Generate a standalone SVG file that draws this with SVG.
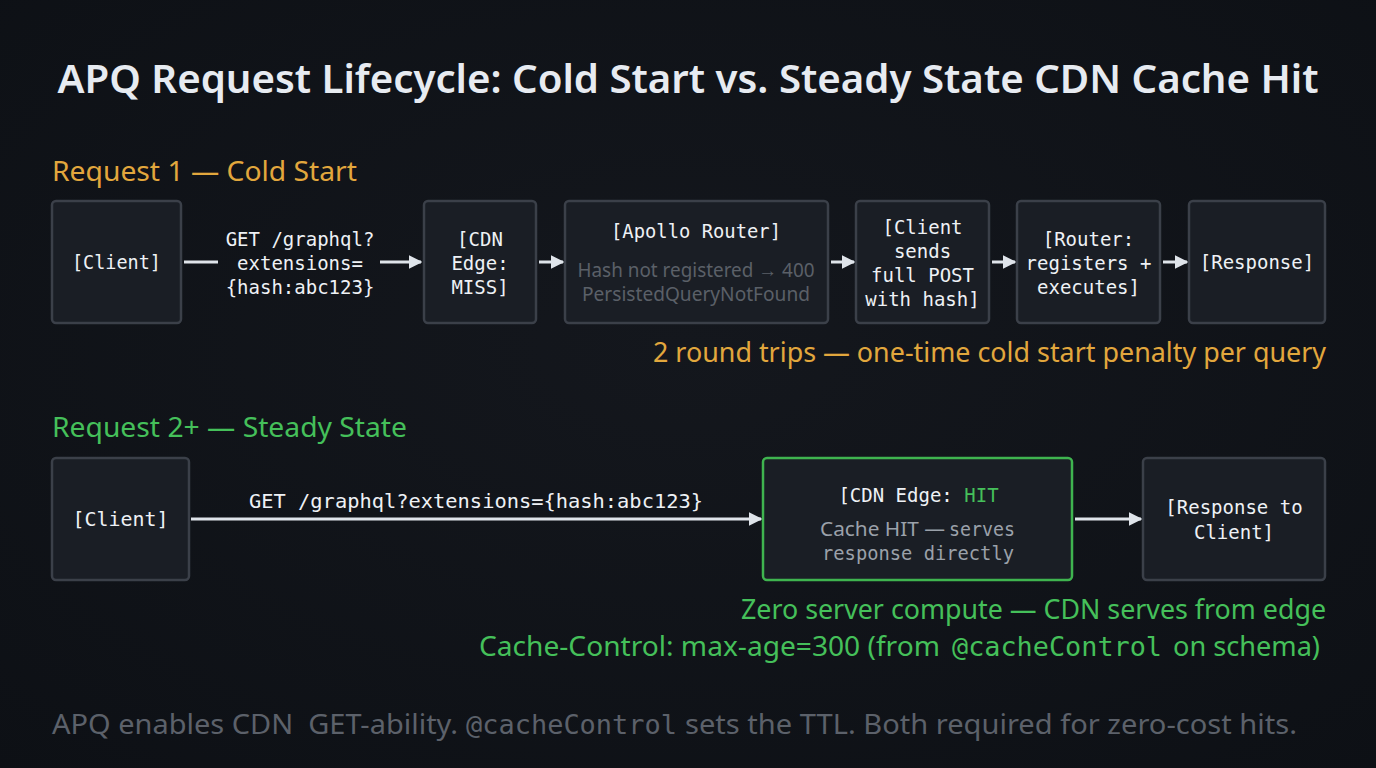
<svg xmlns="http://www.w3.org/2000/svg" width="1376" height="768" viewBox="0 0 1376 768">
<defs>
<marker id="ah" viewBox="0 0 10 10" refX="9" refY="5" markerWidth="4.5" markerHeight="4.5" orient="auto" markerUnits="strokeWidth">
<path d="M0,0 L10,5 L0,10 z" fill="#dfe4ea"/>
</marker>
<radialGradient id="bg" cx="50%" cy="45%" r="75%">
<stop offset="0" stop-color="#14171d"/>
<stop offset="1" stop-color="#0d1015"/>
</radialGradient>
</defs>
<style>
.box{fill:#1a1e25;stroke:#3b4049;stroke-width:2.5}
.hit{fill:#1a1e25;stroke:#3fb44f;stroke-width:2.5}
.mono{font-family:"DejaVu Sans Mono","Liberation Mono",monospace;fill:#eef1f5;font-size:19px;text-anchor:middle}
.sans{font-family:"Noto Sans","Open Sans","Liberation Sans",sans-serif}
.sub{fill:#5b6068;font-size:19px;text-anchor:middle}
.gold{fill:#e2a73d}
.green{fill:#45c05a}
.conn{stroke:#dfe4ea;stroke-width:3;fill:none}
</style>
<rect width="1376" height="768" fill="url(#bg)"/>

<text x="688" y="93" class="sans" font-size="40" font-weight="600" fill="#e7ebf1" text-anchor="middle" textLength="1261" lengthAdjust="spacingAndGlyphs">APQ Request Lifecycle: Cold Start vs. Steady State CDN Cache Hit</text>

<text x="52" y="181" class="sans gold" font-size="28" textLength="305" lengthAdjust="spacingAndGlyphs">Request 1 — Cold Start</text>

<g id="n-client1">
<rect class="box" x="52" y="201" width="129" height="122" rx="4"/>
<text class="mono" x="116.5" y="269" textLength="89" lengthAdjust="spacingAndGlyphs">[Client]</text>
</g>
<g id="n-cdn-miss">
<rect class="box" x="424" y="201" width="112" height="122" rx="4"/>
<text class="mono" x="480" y="246">[CDN</text>
<text class="mono" x="480" y="270">Edge:</text>
<text class="mono" x="480" y="294">MISS]</text>
</g>
<g id="n-router">
<rect class="box" x="565" y="201" width="263" height="122" rx="4"/>
<text class="mono" x="696" y="238" textLength="170" lengthAdjust="spacingAndGlyphs">[Apollo Router]</text>
<text class="sans sub" x="696" y="277" textLength="237" lengthAdjust="spacingAndGlyphs">Hash not registered → 400</text>
<text class="sans sub" x="696" y="301" textLength="228" lengthAdjust="spacingAndGlyphs">PersistedQueryNotFound</text>
</g>
<g id="n-client-post">
<rect class="box" x="856" y="201" width="133" height="122" rx="4"/>
<text class="mono" x="922.5" y="234">[Client</text>
<text class="mono" x="922.5" y="258">sends</text>
<text class="mono" x="922.5" y="282">full POST</text>
<text class="mono" x="922.5" y="306">with hash]</text>
</g>
<g id="n-register">
<rect class="box" x="1017" y="201" width="143" height="122" rx="4"/>
<text class="mono" x="1088.5" y="246">[Router:</text>
<text class="mono" x="1088.5" y="270">registers +</text>
<text class="mono" x="1088.5" y="294">executes]</text>
</g>
<g id="n-response1">
<rect class="box" x="1189" y="201" width="136" height="122" rx="4"/>
<text class="mono" x="1257" y="269">[Response]</text>
</g>

<text x="1326" y="362" class="sans gold" font-size="28" text-anchor="end" textLength="673" lengthAdjust="spacingAndGlyphs">2 round trips — one-time cold start penalty per query</text>

<text x="52" y="437" class="sans green" font-size="28" textLength="355" lengthAdjust="spacingAndGlyphs">Request 2+ — Steady State</text>

<g id="n-client2">
<rect class="box" x="52" y="458" width="137" height="122" rx="4"/>
<text class="mono" x="120.5" y="526" font-size="20" textLength="96" lengthAdjust="spacingAndGlyphs">[Client]</text>
</g>
<g id="n-cdn-hit">
<rect class="hit" x="763" y="458" width="309" height="122" rx="4"/>
<text class="mono" x="918.5" y="502" font-size="20">[CDN Edge: <tspan fill="#45c05a" style="fill:#45c05a">HIT</tspan></text>
<text x="820" y="536" font-size="19" fill="#9ba1aa"><tspan class="sans" textLength="125" lengthAdjust="spacingAndGlyphs">Cache HIT —</tspan><tspan font-family="DejaVu Sans Mono, Liberation Mono, monospace" x="949" textLength="66" lengthAdjust="spacingAndGlyphs">serves</tspan></text>
<text class="mono" x="918" y="560" style="fill:#9ba1aa" textLength="192" lengthAdjust="spacingAndGlyphs">response directly</text>
</g>
<g id="n-response2">
<rect class="box" x="1143" y="458" width="182" height="122" rx="4"/>
<text class="mono" x="1234" y="514" font-size="20">[Response to</text>
<text class="mono" x="1234" y="539" font-size="20">Client]</text>
</g>

<g id="connectors">
<line class="conn" x1="184" y1="262" x2="218" y2="262"/>
<line class="conn" x1="380" y1="262" x2="421" y2="262" marker-end="url(#ah)"/>
<text class="mono" x="300" y="246">GET /graphql?</text>
<text class="mono" x="300" y="270">extensions=</text>
<text class="mono" x="300" y="294">{hash:abc123}</text>
<line class="conn" x1="539" y1="262" x2="563" y2="262" marker-end="url(#ah)"/>
<line class="conn" x1="831" y1="262" x2="854" y2="262" marker-end="url(#ah)"/>
<line class="conn" x1="992" y1="262" x2="1015" y2="262" marker-end="url(#ah)"/>
<line class="conn" x1="1163" y1="262" x2="1187" y2="262" marker-end="url(#ah)"/>
<line class="conn" x1="191" y1="519" x2="761" y2="519" marker-end="url(#ah)"/>
<text class="mono" x="476" y="508" font-size="20" textLength="454" lengthAdjust="spacingAndGlyphs">GET /graphql?extensions={hash:abc123}</text>
<line class="conn" x1="1075" y1="519" x2="1141" y2="519" marker-end="url(#ah)"/>
</g>

<text x="1326" y="619" class="sans green" font-size="28" text-anchor="end" textLength="585" lengthAdjust="spacingAndGlyphs">Zero server compute — CDN serves from edge</text>
<text y="656" font-size="28" class="green"><tspan x="479" class="sans" textLength="461" lengthAdjust="spacingAndGlyphs">Cache-Control: max-age=300 (from</tspan><tspan x="952" font-family="DejaVu Sans Mono, Liberation Mono, monospace" font-size="27" textLength="210" lengthAdjust="spacingAndGlyphs">@cacheControl</tspan><tspan x="1173" class="sans" textLength="147" lengthAdjust="spacingAndGlyphs">on schema)</tspan></text>

<text y="734" font-size="28" fill="#5c616a" xml:space="preserve"><tspan x="52" class="sans" textLength="406" lengthAdjust="spacingAndGlyphs">APQ enables CDN  GET-ability.</tspan><tspan x="466" font-family="DejaVu Sans Mono, Liberation Mono, monospace" font-size="26" textLength="211" lengthAdjust="spacingAndGlyphs">@cacheControl</tspan><tspan x="685" class="sans" textLength="612" lengthAdjust="spacingAndGlyphs">sets the TTL. Both required for zero-cost hits.</tspan></text>
</svg>
